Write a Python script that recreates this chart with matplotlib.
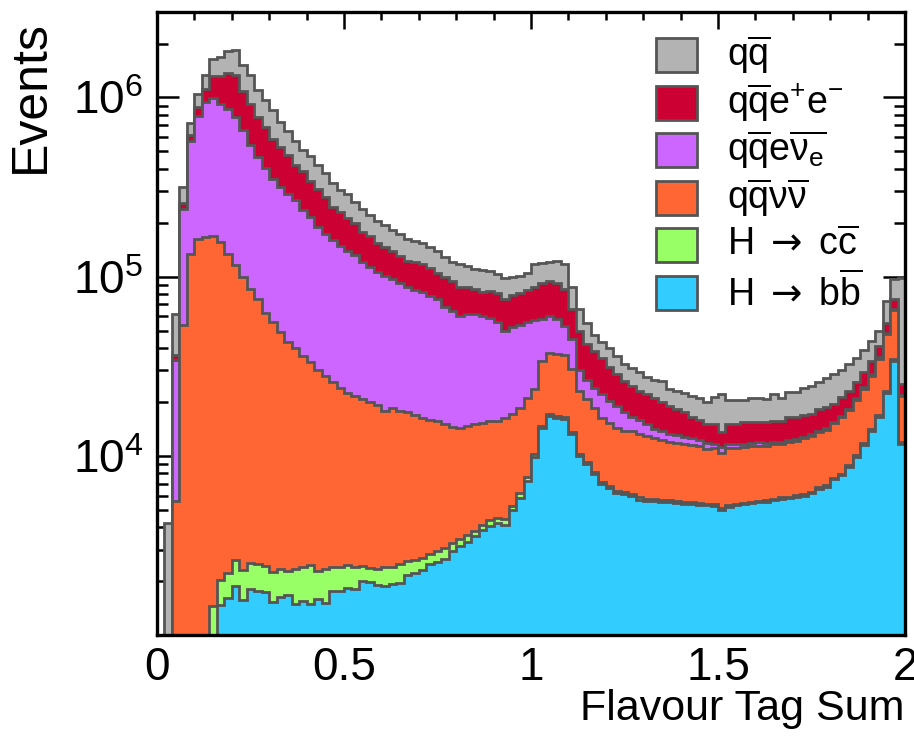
import numpy as np
import matplotlib
matplotlib.use("Agg")
import matplotlib.pyplot as plt
from matplotlib.patches import Rectangle
from matplotlib.ticker import FixedLocator, MultipleLocator, LogLocator, NullFormatter

plt.rcParams['font.family'] = ['Liberation Sans', 'DejaVu Sans']
plt.rcParams['mathtext.fontset'] = 'custom'
plt.rcParams['mathtext.rm'] = 'Liberation Sans'
plt.rcParams['mathtext.it'] = 'Liberation Sans:italic'
plt.rcParams['mathtext.bf'] = 'Liberation Sans:bold'
plt.rcParams['mathtext.sf'] = 'DejaVu Sans'  # long arrow glyph

# 100 bins of flavour tag sum between 0 and 2
edges = np.linspace(0, 2, 101)

hbb = [0, 0, 0, 0, 0, 0, 0, 700, 1470, 1610,
       1880, 1560, 1800, 1760, 1730, 1530, 1630, 1670, 1480, 1540,
       1480, 1590, 1510, 1760, 1760, 1820, 1800, 2000, 1980, 1900,
       1880, 1920, 1950, 2160, 2210, 2310, 2480, 2560, 2650, 2940,
       3150, 3310, 3560, 3870, 4070, 4230, 4110, 5010, 5850, 7260,
       9800, 14300, 16700, 16300, 16100, 13300, 10000, 9000, 7930, 6980,
       6630, 6210, 6140, 5980, 5700, 5600, 5600, 5500, 5500, 5450,
       5400, 5400, 5300, 5300, 5250, 5000, 5200, 5300, 5350, 5450,
       5500, 5550, 5650, 5750, 5800, 5900, 6000, 6200, 6550, 6700,
       7400, 7800, 8700, 9900, 11500, 13800, 16500, 22500, 34000, 11700]

hcc = [0, 0, 0, 0, 0, 0, 0, 750, 550, 600,
       730, 750, 720, 720, 700, 710, 700, 610, 850, 850,
       980, 690, 820, 630, 630, 640, 590, 430, 380, 430,
       510, 470, 530, 430, 400, 380, 360, 380, 400, 320,
       280, 300, 250, 240, 310, 290, 340, 260, 370, 380,
       400, 400, 400, 400, 400, 300, 300, 250, 220, 200,
       190, 180, 170, 170, 160, 150, 150, 140, 140, 130,
       130, 130, 130, 110, 110, 100, 100, 110, 110, 110,
       110, 110, 110, 120, 120, 120, 120, 120, 130, 130,
       150, 160, 170, 200, 230, 280, 330, 450, 700, 230]

qqvv = [0, 100, 5600, 53800, 134000, 163000, 167000, 167000, 155000, 132000,
        114000, 97700, 83200, 72400, 60400, 53600, 46800, 40800, 37600, 33600,
        30800, 27700, 25500, 23300, 21400, 20100, 19100, 18200, 17500, 16900,
        15500, 16200, 15400, 14900, 14200, 13500, 13100, 12700, 11950, 11300,
        10800, 11000, 11300, 11200, 11200, 11200, 11850, 11900, 12300, 13500,
        13300, 19300, 20500, 20400, 20200, 17000, 12800, 11550, 10350, 9120,
        8480, 7910, 7490, 7650, 7440, 7150, 6750, 6560, 6360, 6220,
        6170, 5970, 5870, 5490, 5640, 5300, 5800, 5690, 5740, 5740,
        5790, 5740, 5840, 5830, 5980, 6080, 6380, 6580, 6820, 7170,
        7650, 8440, 9130, 10400, 11970, 13920, 17970, 24750, 30300, 9670]

qqev = [0, 300, 28600, 185200, 436000, 626000, 773000, 831000, 763000, 727000,
        659000, 555000, 455000, 389000, 340000, 296000, 269000, 248000, 229000, 201000,
        181000, 160000, 146000, 135000, 125000, 116000, 110000, 100000, 93000, 87000,
        83000, 78300, 74200, 70000, 67500, 66000, 62100, 59300, 53000, 49400,
        45800, 47400, 46900, 44700, 43400, 40300, 33200, 35300, 35500, 34400,
        33500, 24100, 22900, 20900, 16300, 14400, 6900, 5700, 5500, 5700,
        4900, 4700, 3700, 2700, 2500, 2100, 1700, 1600, 1300, 1200,
        1000, 1000, 900, 900, 700, 800, 600, 600, 500, 500,
        500, 400, 400, 300, 300, 300, 300, 300, 300, 300,
        300, 300, 350, 400, 450, 500, 600, 800, 1000, 300]

qqee = [0, 100, 2200, 20000, 45000, 94000, 170000, 320000, 400000, 509000,
        564000, 435000, 375000, 312000, 279000, 238000, 214000, 184000, 153000, 150000,
        126000, 117000, 103000, 85000, 82000, 75000, 67000, 57000, 56000, 48000,
        46000, 42000, 39000, 35500, 36700, 34800, 34000, 30100, 32000, 31000,
        27500, 25500, 23700, 22200, 24000, 25300, 25400, 26300, 27300, 28800,
        31000, 33900, 34500, 34000, 32000, 21000, 20000, 15500, 14500, 13000,
        11300, 9800, 8500, 8000, 7200, 7000, 6800, 6200, 5700, 5300,
        4800, 4000, 3600, 3300, 3400, 2300, 3400, 3400, 3700, 3600,
        3500, 3600, 3700, 3700, 4200, 4000, 4000, 4000, 4400, 4500,
        4000, 4500, 4750, 4800, 5050, 5500, 5800, 6500, 9000, 3400]

qq = [0, 3700, 25400, 56000, 104000, 157000, 230000, 320000, 360000, 450000,
      510000, 430000, 424000, 324000, 288000, 257000, 198000, 174000, 148000, 119000,
      130000, 113000, 103000, 89000, 74000, 76000, 64000, 62000, 53000, 51000,
      47000, 43000, 42000, 39000, 38000, 37000, 35000, 34000, 29000, 26000,
      29500, 27500, 25300, 26800, 24000, 22700, 23600, 21200, 19700, 20700,
      30000, 27000, 26000, 31000, 33000, 22000, 16000, 13000, 8500, 8000,
      8400, 7200, 6500, 6500, 6300, 5500, 5500, 6000, 4500, 4700,
      5000, 5000, 5200, 4800, 6100, 8600, 5400, 5400, 5100, 5600,
      5600, 5300, 6300, 5300, 6200, 6200, 7000, 7300, 7600, 8300,
      9000, 8900, 9400, 9400, 9800, 10000, 8800, 18000, 22500, 72700]

# bottom of the stack first
samples = [
    (hbb, r'H $\mathsf{\rightarrow}$ b$\overline{\mathrm{b}}$', '#33ccff'),
    (hcc, r'H $\mathsf{\rightarrow}$ c$\overline{\mathrm{c}}$', '#99ff66'),
    (qqvv, r'q$\overline{\mathrm{q}}\mathrm{\nu}\overline{\mathrm{\nu}}$', '#ff6633'),
    (qqev, r'q$\overline{\mathrm{q}}$e$\overline{\mathrm{\nu}_{\mathrm{e}}}$', '#cc66ff'),
    (qqee, r'q$\overline{\mathrm{q}}$e$^{+}$e$^{-}$', '#cc0033'),
    (qq, r'q$\overline{\mathrm{q}}$', '#b3b3b3'),
]
line_col = '#555555'

W, H = 914, 756
fig = plt.figure(figsize=(W / 100, H / 100), dpi=100)
ax = fig.add_axes([157 / W, 1 - 635 / H, 748 / W, 623 / H])

stack = np.cumsum([np.array(s[0], dtype=float) for s in samples], axis=0)
# draw the full stack first, then each lower sum on top of it
for i in range(len(samples) - 1, -1, -1):
    ax.stairs(np.clip(stack[i], 1, None), edges, baseline=1, fill=True,
              facecolor=samples[i][2], edgecolor=line_col, linewidth=2.0, zorder=2)

ax.set_xlim(0, 2)
ax.set_yscale('log')
ax.set_ylim(1e3, 3e6)

ax.xaxis.set_major_locator(FixedLocator([0, 0.5, 1, 1.5, 2]))
ax.xaxis.set_minor_locator(MultipleLocator(0.1))
ax.set_xticklabels(['0', '0.5', '1', '1.5', '2'])
ax.yaxis.set_major_locator(FixedLocator([1e4, 1e5, 1e6]))
ax.set_yticklabels([r'$10^{4}$', r'$10^{5}$', r'$10^{6}$'])
ax.yaxis.set_minor_locator(LogLocator(base=10, subs=np.arange(2, 10)))
ax.yaxis.set_minor_formatter(NullFormatter())

ax.tick_params(which='both', direction='in', top=True, right=True, width=1.8,
               colors='black', labelsize=33, zorder=5)
ax.tick_params(axis='x', which='major', length=12, pad=8)
ax.tick_params(axis='x', which='minor', length=6)
ax.tick_params(axis='y', which='major', length=16, pad=10)
ax.tick_params(axis='y', which='minor', length=8)
for sp in ax.spines.values():
    sp.set_linewidth(2.4)
    sp.set_zorder(6)

fig.text(31 / W, 1 - 20 / H, 'Events', rotation=90, ha='center', va='top', fontsize=36)
fig.text(905 / W, 1 - 709 / H, 'Flavour Tag Sum', ha='right', va='center', fontsize=31)

# legend, top entry first
for k, (vals, label, col) in enumerate(reversed(samples)):
    yc = 55 + 47.6 * k
    fig.add_artist(Rectangle((656 / W, 1 - (yc + 17) / H), 41 / W, 34 / H,
                             transform=fig.transFigure, facecolor=col,
                             edgecolor=line_col, linewidth=2.0))
    fig.text(727 / W, 1 - yc / H, label, ha='left', va='center', fontsize=27)

fig.savefig('out.png', dpi=100)
